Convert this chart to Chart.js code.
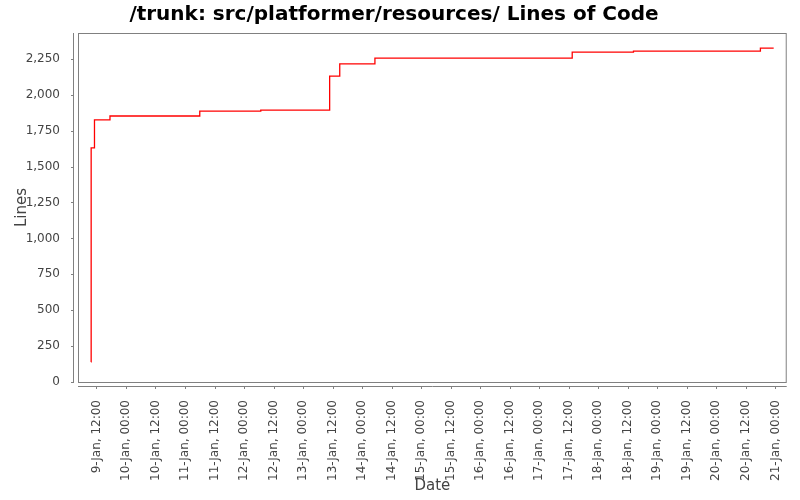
<!DOCTYPE html>
<html>
<head>
<meta charset="utf-8">
<script src="https://cdn.jsdelivr.net/npm/chart.js@4.4.0/dist/chart.umd.min.js"></script>
<style>
  body { margin: 0; background: #fff; }
  #wrap { width: 800px; height: 500px; }
</style>
</head>
<body>
<div id="wrap"><canvas id="myChart" width="800" height="500"></canvas></div>
<script>
// hours counted from 9-Jan 00:00
const commitHours = [9.75, 9.85, 11.2, 17.5, 54.0, 78.8, 106.8, 110.9, 125.2, 205.4, 230.3, 281.9, 287.3];
const lineCounts  = [140, 1630, 1825, 1852, 1886, 1893, 2130, 2215, 2255, 2297, 2304, 2325, 2325];
const monthName = 'Jan';
const firstDay = 9;
const xTickHours = [12, 24, 36, 48, 60, 72, 84, 96, 108, 120, 132, 144, 156, 168, 180, 192, 204, 216, 228, 240, 252, 264, 276, 288];
const yTicks = [0, 250, 500, 750, 1000, 1250, 1500, 1750, 2000, 2250];

const points = commitHours.map((h, i) => ({ x: h, y: lineCounts[i] }));

// label for an x tick, e.g. "9-Jan, 12:00"
function dateLabel(h) {
    const day = firstDay + Math.floor(h / 24);
    const hh = Math.round(h % 24);
    return day + '-' + monthName + ', ' + String(hh).padStart(2, '0') + ':00';
}

// plot outline, offset axis lines and tick marks like the original
const frame = {
    id: 'frame',
    afterDraw(chart) {
        const ctx = chart.ctx;
        const a = chart.chartArea;
        const xs = chart.scales.x;
        const ys = chart.scales.y;
        ctx.save();
        ctx.strokeStyle = '#808080';
        ctx.lineWidth = 1;
        ctx.strokeRect(a.left + 0.5, a.top + 0.5, a.right - a.left - 1, a.bottom - a.top);
        // y axis line
        const ax = a.left - 5;
        ctx.beginPath();
        ctx.moveTo(ax + 0.5, a.top);
        ctx.lineTo(ax + 0.5, a.bottom + 1);
        ys.ticks.forEach(t => {
            const py = Math.round(ys.getPixelForValue(t.value)) + 0.5;
            ctx.moveTo(ax - 2, py);
            ctx.lineTo(ax + 0.5, py);
        });
        // x axis line
        const ay = a.bottom + 4;
        ctx.moveTo(a.left, ay + 0.5);
        ctx.lineTo(a.right, ay + 0.5);
        xs.ticks.forEach(t => {
            const px = Math.round(xs.getPixelForValue(t.value)) + 0.5;
            ctx.moveTo(px, ay + 0.5);
            ctx.lineTo(px, ay + 3);
        });
        ctx.stroke();
        ctx.restore();
    }
};

const ctx = document.getElementById('myChart').getContext('2d');
const myChart = new Chart(ctx, {
    type: 'line',
    data: {
        datasets: [{
            label: 'Lines',
            data: points,
            borderColor: '#ff0000',
            borderWidth: 1.3,
            pointRadius: 0,
            stepped: 'before',
            fill: false
        }]
    },
    options: {
        responsive: false,
        animation: false,
        layout: { padding: { left: 0, right: 12, top: 0, bottom: 0 } },
        plugins: {
            legend: { display: false },
            tooltip: { enabled: false },
            title: {
                display: true,
                text: '/trunk: src/platformer/resources/ Lines of Code',
                color: '#000',
                font: { family: 'DejaVu Sans', size: 20, weight: 'bold' },
                padding: { top: 3, bottom: 6 }
            }
        },
        scales: {
            x: {
                type: 'linear',
                min: 4.5,
                max: 292.6,
                afterFit: s => { s.height = 118; },
                afterBuildTicks: s => { s.ticks = xTickHours.map(v => ({ value: v })); },
                grid: { display: false },
                border: { display: false },
                ticks: {
                    autoSkip: false,
                    minRotation: 90,
                    maxRotation: 90,
                    padding: 10,
                    color: '#444',
                    font: { family: 'DejaVu Sans', size: 12 },
                    callback: v => dateLabel(v)
                },
                title: {
                    display: true,
                    text: 'Date',
                    color: '#444',
                    font: { family: 'DejaVu Sans', size: 15 },
                    padding: { top: 0, bottom: 5 }
                }
            },
            y: {
                min: 0,
                max: 2430,
                afterFit: s => { s.width = 78; },
                afterBuildTicks: s => { s.ticks = yTicks.map(v => ({ value: v })); },
                grid: { display: false },
                border: { display: false },
                ticks: {
                    padding: 10,
                    color: '#444',
                    font: { family: 'DejaVu Sans', size: 12 },
                    callback: v => v.toLocaleString('en-US')
                },
                title: {
                    display: true,
                    text: 'Lines',
                    color: '#444',
                    font: { family: 'DejaVu Sans', size: 15 },
                    padding: { top: 13, bottom: 0 }
                }
            }
        }
    },
    plugins: [frame]
});
</script>
</body>
</html>
